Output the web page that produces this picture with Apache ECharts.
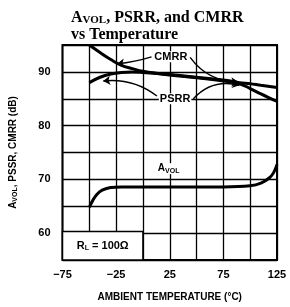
<!DOCTYPE html>
<html>
<head>
<meta charset="utf-8">
<script src="https://cdn.jsdelivr.net/npm/echarts@6/dist/echarts.min.js"></script>
<style>
  html, body { margin: 0; padding: 0; background: #fff; }
  #chart { width: 290px; height: 307px; }
</style>
</head>
<body>
<div id="chart"></div>
<script>
// temperatures (°C) and readings (dB)
const temps = [-50, -40, -30, -20, -10, 0, 25, 50, 75, 90, 100, 110, 125];
const cmrr  = [95.0, 93.6, 92.3, 91.2, 90.6, 90.1, 89.4, 88.9, 88.3, 87.8, 86.9, 85.9, 84.5];
const psrr  = [88.0, 89.0, 89.6, 89.9, 90.0, 89.9, 89.5, 89.0, 88.5, 88.0, 87.8, 87.5, 87.1];
const avolTemps = [-50, -47, -43, -38, -30, -20, 0, 25, 50, 75, 100, 110, 118, 122, 125];
const avol      = [64.8, 66.0, 67.2, 68.0, 68.5, 68.6, 68.6, 68.6, 68.6, 68.6, 68.8, 69.3, 70.3, 71.3, 72.8];
const xLabels = [-75, -25, 25, 75, 125];
const yLabels = [60, 70, 80, 90];

const chart = echarts.init(document.getElementById('chart'));

const pair = (xs, ys) => xs.map((x, i) => [x, ys[i]]);
const sans = 'Liberation Sans, Arial, sans-serif';
const curve = { color: '#000', width: 3 };
const arrow = { color: '#000', width: 1.4, opacity: 1 };

const option = {
  animation: false,
  title: {
    text: '{a|A}{s|VOL}{a|, PSRR, and CMRR}\n{a|vs Temperature}',
    left: 66,
    top: 4,
    textStyle: {
      rich: {
        a: { fontFamily: 'Liberation Serif, serif', fontWeight: 'bold', fontSize: 16, color: '#000', lineHeight: 17 },
        s: { fontFamily: 'Liberation Serif, serif', fontWeight: 'bold', fontSize: 11, color: '#000', padding: [5, 0, 0, 0], lineHeight: 17 }
      }
    }
  },
  grid: { left: 62, right: 13, top: 45, bottom: 46, show: true, borderColor: '#000', borderWidth: 2 },
  xAxis: {
    type: 'value', min: -75, max: 125, interval: 25,
    name: 'AMBIENT TEMPERATURE (°C)',
    nameLocation: 'middle', nameGap: 32,
    nameTextStyle: { fontFamily: sans, fontWeight: 'bold', fontSize: 10, color: '#000' },
    axisLine: { show: false },
    axisTick: { show: false },
    axisLabel: {
      margin: 9, color: '#000', fontFamily: sans, fontWeight: 'bold', fontSize: 11,
      formatter: v => xLabels.includes(v) ? String(v).replace('-', '\u2212') : ''
    },
    splitLine: { lineStyle: { color: '#000', width: 1.3 } }
  },
  yAxis: {
    type: 'value', min: 55, max: 95, interval: 5,
    name: '{a|A}{s|VOL}{a|, PSSR, CMRR (dB)}',
    nameLocation: 'middle', nameRotate: 90, nameGap: 44,
    nameTextStyle: {
      rich: {
        a: { fontFamily: sans, fontWeight: 'bold', fontSize: 10, color: '#000' },
        s: { fontFamily: sans, fontWeight: 'bold', fontSize: 7, color: '#000', padding: [4, 0, 0, 0] }
      }
    },
    axisLine: { show: false },
    axisTick: { show: false },
    axisLabel: {
      margin: 12, color: '#000', fontFamily: sans, fontWeight: 'bold', fontSize: 11,
      formatter: v => yLabels.includes(v) ? String(v) : ''
    },
    splitLine: { lineStyle: { color: '#000', width: 1.3 } }
  },
  series: [
    {
      name: 'CMRR', type: 'line', data: pair(temps, cmrr), smooth: 0.4,
      symbol: 'none', lineStyle: curve, z: 5
    },
    {
      name: 'PSRR', type: 'line', data: pair(temps, psrr), smooth: 0.4,
      symbol: 'none', lineStyle: curve, z: 5
    },
    {
      name: 'AVOL', type: 'line', data: pair(avolTemps, avol), smooth: 0.4,
      symbol: 'none', lineStyle: curve, z: 5,
      markArea: {
        silent: true,
        itemStyle: { color: '#fff', borderColor: '#000', borderWidth: 1.5 },
        label: {
          show: true, position: 'inside',
          formatter: '{a|R}{s|L}{a| = 100Ω}',
          rich: {
            a: { fontFamily: sans, fontWeight: 'bold', fontSize: 11, color: '#000' },
            s: { fontFamily: sans, fontWeight: 'bold', fontSize: 7, color: '#000', padding: [5, 0, 0, 0] }
          }
        },
        data: [[{ coord: [-75, 60.3] }, { coord: [0, 55] }]]
      }
    },
    {
      type: 'lines', coordinateSystem: 'cartesian2d', polyline: false,
      symbol: ['none', 'arrow'], symbolSize: 7, z: 6,
      lineStyle: arrow,
      data: [
        { coords: [[8, 92.8], [-24, 91.5]], lineStyle: { curveness: 0.05 } },
        { coords: [[44, 92.7], [89, 88.1]], lineStyle: { curveness: -0.25 } },
        { coords: [[13, 85.5], [-37, 88.3]], lineStyle: { curveness: -0.2 } },
        { coords: [[47, 85.0], [90, 87.5]], lineStyle: { curveness: 0.3 } }
      ]
    },
    {
      type: 'scatter', symbolSize: 0, z: 7, silent: true,
      itemStyle: { opacity: 1, color: '#000' },
      label: {
        show: true, position: 'inside', color: '#000',
        fontFamily: sans, fontWeight: 'bold', fontSize: 11,
        backgroundColor: '#fff', padding: [0, 1],
        formatter: p => p.data.name,
        rich: {
          a: { fontFamily: sans, fontWeight: 'bold', fontSize: 10, color: '#000' },
          s: { fontFamily: sans, fontWeight: 'bold', fontSize: 7, color: '#000', padding: [4, 0, 0, 0] }
        }
      },
      data: [
        { name: 'CMRR', value: [26, 92.8] },
        { name: 'PSRR', value: [30, 85.0] },
        { name: '{a|A}{s|VOL}', value: [24, 72.0] }
      ]
    }
  ]
};

chart.setOption(option);
</script>
</body>
</html>
